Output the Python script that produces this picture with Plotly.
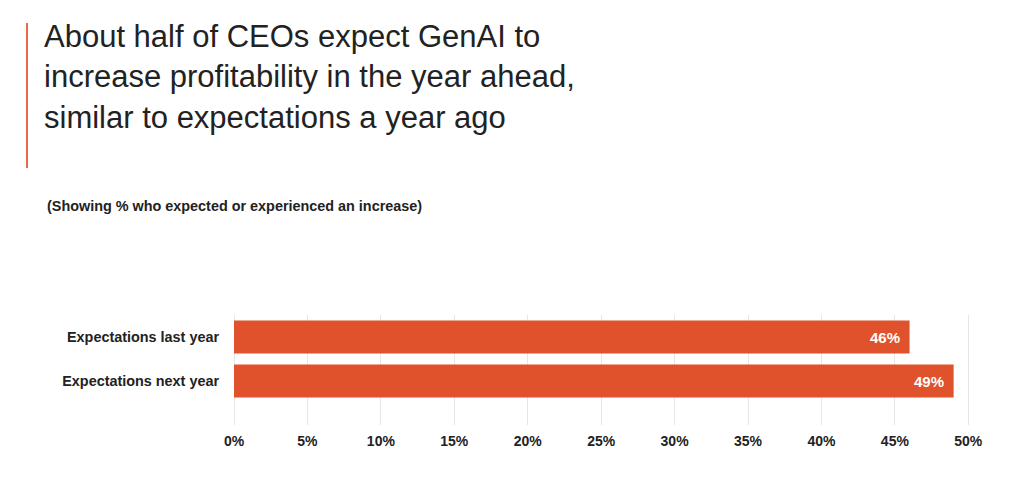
import plotly.graph_objects as go

categories = ["Expectations last year", "Expectations next year"]
values = [46, 49]
tick_vals = [0, 5, 10, 15, 20, 25, 30, 35, 40, 45, 50]
tick_text = [f"{v}%" for v in tick_vals]

title_text = "About half of CEOs expect GenAI to<br>increase profitability in the year ahead,<br>similar to expectations a year ago"
subtitle_text = "(Showing % who expected or experienced an increase)"

BAR = "#E0522B"
ACCENT = "#E8694A"
TXT = "#222222"
FONT = "Liberation Sans, Arial, sans-serif"

# page body has an 8px margin, so the figure is laid out 8px smaller
OFF = 8
W, H = 1024 - OFF, 486 - OFF
ML, MT = 234 - OFF, 315 - OFF
MR = W - (983 - OFF)
MB = H - (425 - OFF)
PW = W - ML - MR
PH = H - MT - MB


def px(x):
    return (x - OFF - ML) / PW


def py(y):
    return (H - MB - (y - OFF)) / PH


fig = go.Figure()
fig.add_trace(go.Bar(
    x=values, y=categories, orientation="h",
    marker=dict(color=BAR, line=dict(width=0)),
    width=0.75, hoverinfo="skip",
))

annotations = []
for c, v in zip(categories, values):
    annotations.append(dict(
        x=v, y=c, xref="x", yref="y", text=f"<b>{v}%</b>", showarrow=False,
        xanchor="right", yanchor="middle", xshift=-8,
        font=dict(family=FONT, size=15, color="white"),
    ))

annotations.append(dict(
    x=px(42), y=py(17), xref="paper", yref="paper",
    text=title_text, showarrow=False, xanchor="left", yanchor="top", align="left",
    font=dict(family=FONT, size=31, color=TXT),
))

annotations.append(dict(
    x=px(45), y=py(206), xref="paper", yref="paper",
    text=f"<b>{subtitle_text}</b>", showarrow=False, xanchor="left", yanchor="middle",
    font=dict(family=FONT, size=14.4, color=TXT),
))

fig.update_layout(
    width=W, height=H,
    margin=dict(l=ML, r=MR, t=MT, b=MB, pad=0),
    paper_bgcolor="white", plot_bgcolor="white",
    showlegend=False,
    annotations=annotations,
    shapes=[dict(
        type="line", xref="paper", yref="paper",
        x0=px(27), x1=px(27), y0=py(23), y1=py(168),
        line=dict(color=ACCENT, width=2),
    )],
    xaxis=dict(
        range=[0, 51], tickvals=tick_vals, ticktext=tick_text,
        showgrid=True, gridcolor="#E6E6E6", gridwidth=1,
        zeroline=True, zerolinecolor="#E6E6E6", zerolinewidth=1,
        showline=False, ticks="", ticklabelstandoff=6,
        tickfont=dict(family=FONT, size=14, color=TXT, weight="bold"),
        fixedrange=True,
    ),
    yaxis=dict(
        range=[2, -0.5], showgrid=False, zeroline=False, showline=False, ticks="",
        ticklabelstandoff=14,
        tickfont=dict(family=FONT, size=14.4, color=TXT, weight="bold"),
        fixedrange=True,
    ),
)

fig.write_html("out.html")
